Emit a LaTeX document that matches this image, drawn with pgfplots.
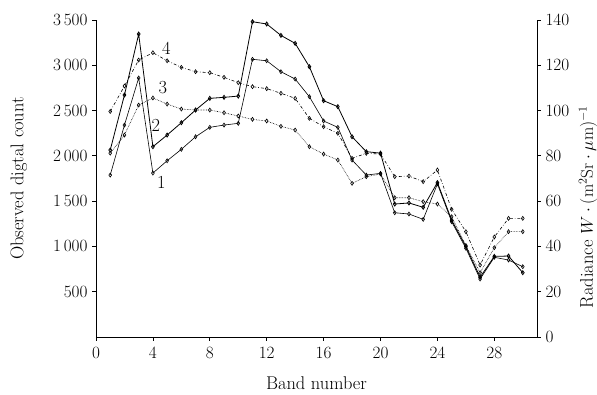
\documentclass[border=0pt]{standalone}
\usepackage{pgfplots}
\pgfplotsset{compat=1.18}
\pgfplotstableread{
b s1 s2 s3 s4
1 1788 2064 2030 2490
2 2340 2672 2230 2771
3 2860 3345 2561 3058
4 1810 2101 2639 3139
5 1946 2230 2572 3050
6 2072 2366 2517 2977
7 2211 2506 2506 2929
8 2315 2635 2506 2918
9 2340 2646 2476 2867
10 2359 2660 2440 2808
11 3066 3481 2403 2764
12 3050 3456 2385 2742
13 2929 3330 2326 2691
14 2848 3242 2285 2635
15 2653 2984 2101 2414
16 2385 2609 2020 2322
17 2315 2543 1954 2249
18 1954 2211 1697 1973
19 1788 2046 1770 2028
20 1807 2030 1800 2020
21 1372 1468 1538 1770
22 1358 1480 1538 1777
23 1299 1432 1494 1715
24 1690 1705 1468 1844
25 1273 1290 1328 1410
26 980 1000 1010 1163
27 640 660 710 795
28 880 890 986 1104
29 850 894 1163 1310
30 776 710 1163 1310
}\data
\newcommand\bigf{\fontsize{18.5}{22}\selectfont}
\begin{document}
\begin{tikzpicture}
\pgfplotsset{
  common/.style={
    scale only axis, width=441bp, height=317bp,
    xmin=0, xmax=31,
    axis line style={-, line width=0.8pt},
    tick align=outside, tick style={black, line width=0.8pt},
    major tick length=4pt,
    tick label style={font=\bigf},
    label style={font=\bigf},
  }
}
\begin{axis}[
  common, name=ax,
  ymin=0, ymax=3500,
  axis x line*=bottom, axis y line*=left,
  xtick={0,4,...,28}, ytick={500,1000,...,3500},
  /pgf/number format/1000 sep={\,},
  yticklabel style={xshift=-1bp},
  xticklabel style={yshift=-3bp},
  xlabel={Band number}, ylabel={Observed digtal count},
  ylabel style={font=\bigf, at={(axis description cs:-0.175,0.5)}, anchor=center},
  xlabel style={font=\bigf, at={(axis description cs:0.5,-0.145)}, anchor=center},
  clip=false,
  every axis plot/.append style={black, mark=o, mark size=2pt, mark options={solid, xscale=0.7}},
]
\addplot[line width=0.6pt] table[x=b,y=s1]{\data};
\addplot[line width=0.8pt] table[x=b,y=s2]{\data};
\addplot[line width=0.6pt, densely dotted] table[x=b,y=s3]{\data};
\addplot[line width=0.6pt, dashdotted] table[x=b,y=s4]{\data};
\node[font=\bigf] at (axis cs:4.95,3190) {4};
\node[font=\bigf] at (axis cs:4.7,2749) {3};
\node[font=\bigf] at (axis cs:4.2,2340) {2};
\node[font=\bigf] at (axis cs:4.6,1711) {1};
\end{axis}
\begin{axis}[
  common,
  ymin=0, ymax=140,
  axis x line=none, axis y line*=right,
  ytick={0,20,...,140},
  yticklabel pos=right, ylabel near ticks,
  yticklabel style={xshift=1bp},
  ylabel style={font=\bigf, at={(axis description cs:1.116,0.41)}, anchor=center},
  ylabel={Radiance $W\cdot(\mathrm{m}^2\mathrm{Sr}\cdot\mu\mathrm{m})^{-1}$},
]
\end{axis}
\pgfresetboundingbox
\path (ax.south west) ++(-96bp,-58bp) rectangle ([shift={(60bp,20bp)}]ax.north east);
\end{tikzpicture}
\end{document}
